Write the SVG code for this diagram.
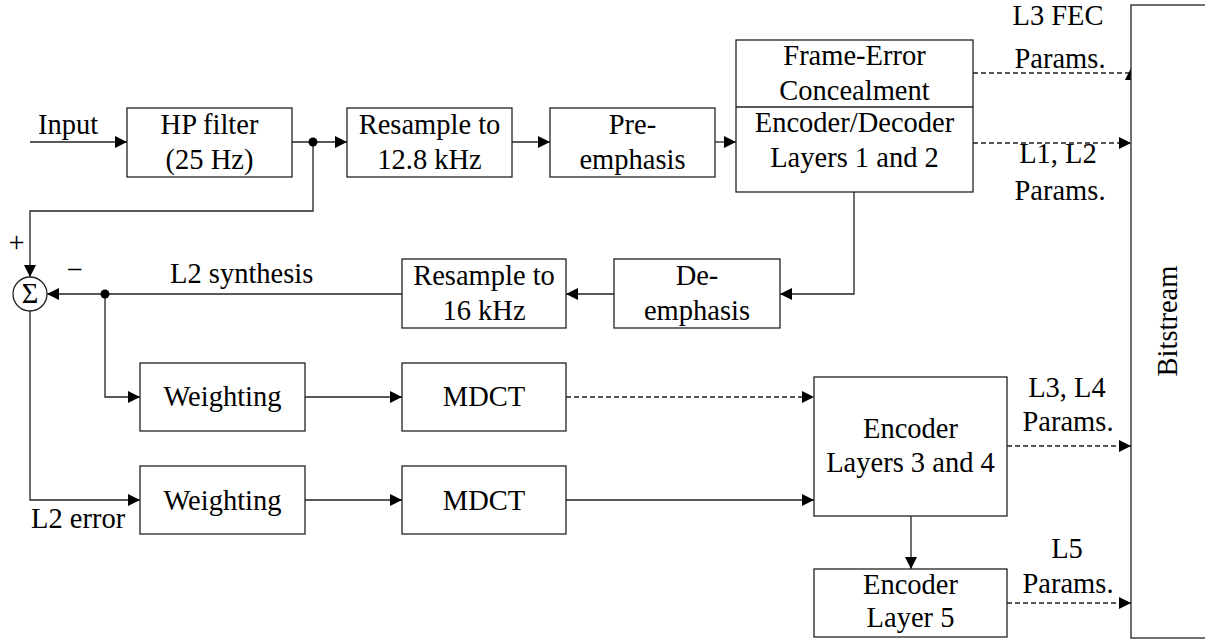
<svg xmlns="http://www.w3.org/2000/svg" width="1205" height="639" viewBox="0 0 1205 639" font-family="'Liberation Serif', 'Times New Roman', Times, 'Nimbus Roman', 'DejaVu Serif', serif">
<style>
.box{fill:#fff;stroke:#222;stroke-width:1.3}
.ln{fill:none;stroke:#222;stroke-width:1.3}
.dash{stroke-dasharray:5 3}
text{font-family:'Liberation Serif', 'Times New Roman', Times, 'Nimbus Roman', 'DejaVu Serif', serif;font-size:28.5px;fill:#000}
.c{text-anchor:middle}
</style>
<defs>
<marker id="ah" markerUnits="userSpaceOnUse" markerWidth="14" markerHeight="14" refX="12" refY="6" orient="auto">
<path d="M0,0 L12,6 L0,12 z" fill="#000"/>
</marker>
<marker id="ahUp" markerUnits="userSpaceOnUse" markerWidth="14" markerHeight="14" refX="7" refY="6" orient="270">
<path d="M0,0 L12,6 L0,12 z" fill="#000"/>
</marker>
</defs>
<rect width="1205" height="639" fill="#fff"/>

<g id="connectors">
<path class="ln" d="M30,142 H127" marker-end="url(#ah)"/>
<path class="ln" d="M292,142 H347" marker-end="url(#ah)"/>
<path class="ln" d="M313,142 V211 H30 V277" marker-end="url(#ah)"/>
<path class="ln" d="M512,142 H550" marker-end="url(#ah)"/>
<path class="ln" d="M715,142 H736" marker-end="url(#ah)"/>
<path class="ln dash" d="M973,73 H1131" marker-end="url(#ahUp)"/>
<path class="ln dash" d="M973,143 H1131" marker-end="url(#ah)"/>
<path class="ln" d="M854,192 V294 H780" marker-end="url(#ah)"/>
<path class="ln" d="M614,294 H566" marker-end="url(#ah)"/>
<path class="ln" d="M402,294 H47" marker-end="url(#ah)"/>
<path class="ln" d="M105,294 V397 H140" marker-end="url(#ah)"/>
<path class="ln" d="M30,311 V500 H140" marker-end="url(#ah)"/>
<path class="ln" d="M305,397 H402" marker-end="url(#ah)"/>
<path class="ln" d="M305,500 H402" marker-end="url(#ah)"/>
<path class="ln dash" d="M566,397 H814" marker-end="url(#ah)"/>
<path class="ln" d="M566,500 H814" marker-end="url(#ah)"/>
<path class="ln" d="M911,516 V569" marker-end="url(#ah)"/>
<path class="ln dash" d="M1007,446 H1131" marker-end="url(#ah)"/>
<path class="ln dash" d="M1007,603 H1131" marker-end="url(#ah)"/>
<circle cx="313" cy="142" r="4.5" fill="#000"/>
<circle cx="105" cy="294" r="4.5" fill="#000"/>
</g>

<g id="labels">
<text x="38" y="134">Input</text>
<text x="16.5" y="252" class="c">+</text>
<text x="74.5" y="279" class="c">−</text>
<text x="170" y="283">L2 synthesis</text>
<text x="31" y="528">L2 error</text>
<text x="1058" y="25" class="c">L3 FEC</text>
<text x="1060" y="68" class="c">Params.</text>
<text x="1058" y="163" class="c">L1, L2</text>
<text x="1060" y="200" class="c">Params.</text>
<text x="1067" y="397" class="c">L3, L4</text>
<text x="1068" y="431" class="c">Params.</text>
<text x="1067" y="558" class="c">L5</text>
<text x="1068" y="593" class="c">Params.</text>
</g>

<g id="hp">
<rect class="box" x="127" y="108" width="165" height="69"/>
<text x="209.5" y="134" class="c">HP filter</text>
<text x="209.5" y="169" class="c">(25 Hz)</text>
</g>
<g id="resample128">
<rect class="box" x="347" y="108" width="165" height="69"/>
<text x="429.5" y="134" class="c">Resample to</text>
<text x="429.5" y="169" class="c">12.8 kHz</text>
</g>
<g id="preemph">
<rect class="box" x="550" y="108" width="165" height="69"/>
<text x="632.5" y="134" class="c">Pre-</text>
<text x="632.5" y="169" class="c">emphasis</text>
</g>
<g id="encdec">
<rect class="box" x="736" y="40" width="237" height="152"/>
<line class="ln" x1="736" y1="107" x2="973" y2="107"/>
<text x="854.5" y="65" class="c">Frame-Error</text>
<text x="854.5" y="100" class="c">Concealment</text>
<text x="854.5" y="132" class="c">Encoder/Decoder</text>
<text x="854.5" y="167" class="c">Layers 1 and 2</text>
</g>
<g id="bitstream">
<rect class="box" x="1131" y="5" width="90" height="633"/>
<text x="1177" y="321" class="c" transform="rotate(-90 1177 321)">Bitstream</text>
</g>
<g id="deemph">
<rect class="box" x="614" y="259" width="166" height="69"/>
<text x="697" y="285" class="c">De-</text>
<text x="697" y="320" class="c">emphasis</text>
</g>
<g id="resample16">
<rect class="box" x="402" y="259" width="164" height="69"/>
<text x="484" y="285" class="c">Resample to</text>
<text x="484" y="320" class="c">16 kHz</text>
</g>
<g id="sum">
<circle class="box" cx="30" cy="294" r="17"/>
<text x="30" y="303" class="c">Σ</text>
</g>
<g id="weight1">
<rect class="box" x="140" y="363" width="165" height="68"/>
<text x="222.5" y="406" class="c">Weighting</text>
</g>
<g id="mdct1">
<rect class="box" x="402" y="363" width="164" height="68"/>
<text x="484" y="406" class="c">MDCT</text>
</g>
<g id="weight2">
<rect class="box" x="140" y="466" width="165" height="68"/>
<text x="222.5" y="510" class="c">Weighting</text>
</g>
<g id="mdct2">
<rect class="box" x="402" y="466" width="164" height="68"/>
<text x="484" y="510" class="c">MDCT</text>
</g>
<g id="enc34">
<rect class="box" x="814" y="377" width="193" height="139"/>
<text x="910.5" y="438" class="c">Encoder</text>
<text x="910.5" y="472" class="c">Layers 3 and 4</text>
</g>
<g id="enc5">
<rect class="box" x="814" y="569" width="193" height="68"/>
<text x="910.5" y="594" class="c">Encoder</text>
<text x="910.5" y="627" class="c">Layer 5</text>
</g>
</svg>
